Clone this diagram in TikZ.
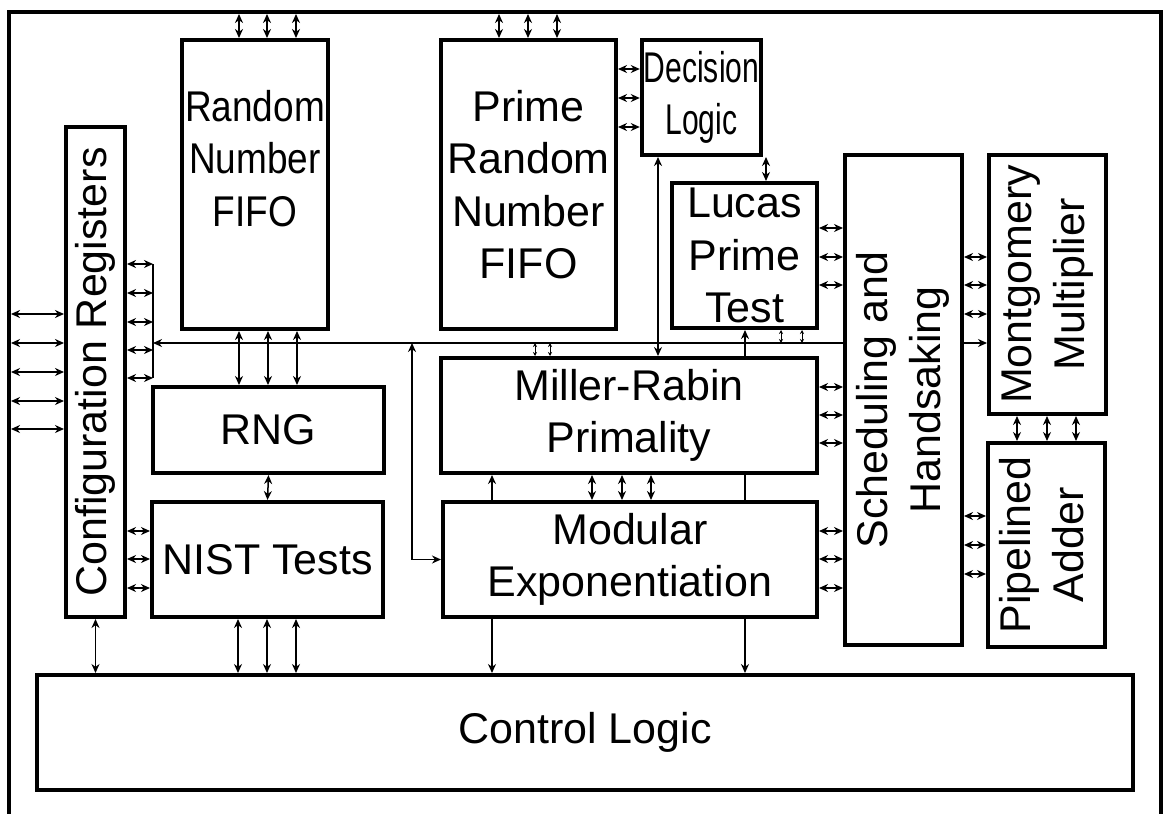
\documentclass[tikz,border=0pt]{standalone}
\usepackage{fontspec}
\setmainfont{Liberation Sans}
\usepackage{graphicx}
\usetikzlibrary{arrows.meta, positioning, calc}

\newcommand{\squeezed}[2][0.7]{\scalebox{#1}[1]{#2}}
\newcommand{\vtext}[1]{\rotatebox{90}{\begin{tabular}{@{}c@{}}#1\end{tabular}}}

\tikzset{
    every node/.style={font=\fontsize{43}{52.5}\selectfont},
    % Hardware module box
    module/.style={
        rectangle,
        draw=black,
        line width=4pt,
        inner sep=2pt,
        align=center
    },
    % Outer chip frame
    chip/.style={
        rectangle,
        draw=black,
        line width=4pt,
        outer sep=-2pt
    },
    % Bidirectional link
    link/.style={
        <->,
        >={Stealth[length=9pt,width=8pt]},
        line width=1.5pt
    },
    % One-way link
    onelink/.style={
        ->,
        >={Stealth[length=9pt,width=8pt]},
        line width=1.5pt
    },
    % Short link to the bus
    tinylink/.style={
        <->,
        >={Stealth[length=4pt,width=4pt]},
        line width=1pt
    },
    % Plain wire
    wire/.style={line width=1.5pt}
}

\begin{document}
\begin{tikzpicture}[x=1pt, y=-1pt]
    \useasboundingbox (0,0) rectangle (1163,814);
    \node (frame) [chip, minimum width=1152pt, minimum height=805pt] at (585,414.5) {};

    % Modules
    \node (cfg) [module, minimum width=59pt, minimum height=490pt] at (95.5,372) {\vtext{Configuration Registers}};
    \node (rnfifo) [module, minimum width=146pt, minimum height=289pt] at (255,184.5) {\squeezed[0.86]{Random}\\\squeezed[0.86]{Number}\\\squeezed[0.86]{FIFO}\\\mbox{}};
    \node (prfifo) [module, minimum width=175pt, minimum height=289pt] at (528.5,184.5) {Prime\\Random\\Number\\FIFO};
    \node (dec) [module, minimum width=117pt, minimum height=115pt] at (701.5,97.5) {\squeezed{Decision}\\\squeezed{Logic}};
    \node (lucas) [module, minimum width=145pt, minimum height=145pt] at (744.5,255.5) {Lucas\\Prime\\Test};
    \node (rng) [module, minimum width=231pt, minimum height=86pt] at (268.5,430) {RNG};
    \node (nist) [module, minimum width=231pt, minimum height=115pt] at (267.5,559.5) {NIST Tests};
    \node (mr) [module, minimum width=376pt, minimum height=115pt] at (629,415.5) {Miller-Rabin\\Primality};
    \node (modexp) [module, minimum width=374pt, minimum height=115pt] at (630,559.5) {Modular\\Exponentiation};
    \node (sched) [module, minimum width=117pt, minimum height=490pt] at (903.5,400) {\vtext{Scheduling and\\Handsaking}};
    \node (mont) [module, minimum width=117pt, minimum height=259pt] at (1047.5,284.5) {\vtext{Montgomery\\Multiplier}};
    \node (adder) [module, minimum width=117pt, minimum height=204pt] at (1046.5,545) {\vtext{Pipelined\\Adder}};
    \node (ctrl) [module, minimum width=1096pt, minimum height=115pt] at (585,732.5) {Control Logic};

    % Internal bus
    \coordinate (bustop) at (153,264);
    \coordinate (busbot) at (153,378);
    \coordinate (busend) at (153,343);
    \draw [wire] (bustop) -- (busbot);
    \draw [onelink] (sched.west |- busend) -- (busend);

    % Chip pins
    \foreach \x in {239,267,296} \draw [link] (\x,0 |- frame.north) -- (\x,0 |- rnfifo.north);
    \foreach \x in {499,528,557} \draw [link] (\x,0 |- frame.north) -- (\x,0 |- prfifo.north);
    \foreach \y in {314,343,372,401,429} \draw [link] (frame.west |- 0,\y) -- (cfg.west |- 0,\y);

    % Configuration registers
    \foreach \y in {264,293,322,350,378} \draw [link] (cfg.east |- 0,\y) -- (bustop |- 0,\y);
    \foreach \y in {531,559,588} \draw [link] (cfg.east |- 0,\y) -- (nist.west |- 0,\y);
    \draw [link] (cfg.south) -- (cfg.south |- ctrl.north);

    % RNG path
    \foreach \x in {239,268,297} \draw [link] (\x,0 |- rnfifo.south) -- (\x,0 |- rng.north);
    \draw [link] (rng.south) -- (nist.north);
    \foreach \x in {238,267,296} \draw [link] (\x,0 |- nist.south) -- (\x,0 |- ctrl.north);

    % Prime path
    \foreach \y in {69,98,127} \draw [link] (prfifo.east |- 0,\y) -- (dec.west |- 0,\y);
    \draw [link] (766,0 |- dec.south) -- (766,0 |- lucas.north);
    \draw [link] (658,0 |- dec.south) -- (658,0 |- mr.north);
    \draw [link] (412,0 |- busend) |- (modexp.west);
    \foreach \x in {535,550} \draw [tinylink] (\x,0 |- busend) -- (\x,0 |- mr.north);
    \foreach \x in {781,802} \draw [tinylink] (\x,0 |- lucas.south) -- (\x,0 |- busend);
    \foreach \x in {592,622,651} \draw [link] (\x,0 |- mr.south) -- (\x,0 |- modexp.north);
    \draw [onelink] (492,0 |- modexp.north) -- (492,0 |- mr.south);
    \draw [onelink] (492,0 |- modexp.south) -- (492,0 |- ctrl.north);
    \draw [onelink] (745,0 |- mr.north) -- (745,0 |- lucas.south);
    \draw [wire] (745,0 |- mr.south) -- (745,0 |- modexp.north);
    \draw [onelink] (745,0 |- modexp.south) -- (745,0 |- ctrl.north);

    % Scheduler links
    \foreach \y in {228,257,285} \draw [link] (lucas.east |- 0,\y) -- (sched.west |- 0,\y);
    \foreach \y in {387,415,443} \draw [link] (mr.east |- 0,\y) -- (sched.west |- 0,\y);
    \foreach \y in {531,559,588} \draw [link] (modexp.east |- 0,\y) -- (sched.west |- 0,\y);
    \foreach \y in {257,285,314} \draw [link] (sched.east |- 0,\y) -- (mont.west |- 0,\y);
    \draw [onelink] (sched.east |- busend) -- (mont.west |- busend);
    \foreach \y in {516,545,574} \draw [link] (sched.east |- 0,\y) -- (adder.west |- 0,\y);
    \foreach \x in {1017,1047,1076} \draw [link] (\x,0 |- mont.south) -- (\x,0 |- adder.north);
\end{tikzpicture}
\end{document}
